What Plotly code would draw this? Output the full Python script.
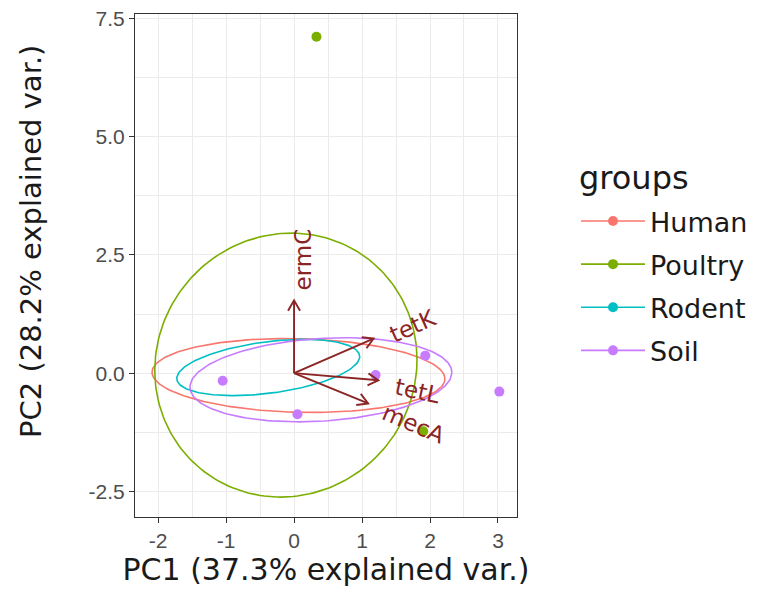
import numpy as np
import plotly.graph_objects as go

# ---------------- data ----------------
groups = ["Human", "Poultry", "Rodent", "Soil"]
group_colors = ["#F8766D", "#7CAE00", "#00BFC4", "#C77CFF"]

# observed (visible) sample scores
soil_pc1 = [-1.05, 0.05, 1.20, 1.93, 3.02]
soil_pc2 = [-0.16, -0.87, -0.04, 0.37, -0.39]
poultry_pc1 = [0.33, 1.90]
poultry_pc2 = [7.11, -1.23]

# ellipse parameters per group: centre and covariance-like spread
ell_cx = [0.065, -0.12, -0.38, 0.395]
ell_cy = [-0.05, 0.17, 0.12, -0.14]
ell_sxx = [4.64, 3.72, 1.81, 3.71]
ell_syy = [0.61, 7.78, 0.354, 0.79]
ell_sxy = [-0.15, 0.22, 0.31, 0.30]

# variable loadings (arrows)
var_names = ["ermC", "tetK", "tetL", "mecA"]
var_pc1 = [0.0, 1.17, 1.24, 1.09]
var_pc2 = [1.54, 0.73, -0.15, -0.64]
lab_pc1 = [0.13, 1.75, 1.82, 1.76]
lab_pc2 = [2.40, 0.99, -0.38, -1.08]
lab_angle = [-90, -24, 12, 23]

x_title = "PC1 (37.3% explained var.)"
y_title = "PC2 (28.2% explained var.)"
legend_title = "groups"
x_ticks = [-2, -1, 0, 1, 2, 3]
y_ticks = [-2.5, 0.0, 2.5, 5.0, 7.5]
y_ticklabels = ["-2.5", "0.0", "2.5", "5.0", "7.5"]

# ---------------- layout constants ----------------
W, H = 769, 594
ML, MR, MT, MB = 135, 252, 14, 77
PW, PH = W - ML - MR, H - MT - MB
XR = [-2.34, 3.28]
YR = [-3.04, 7.59]
pxx = PW / (XR[1] - XR[0])
pxy = PH / (YR[1] - YR[0])

arrow_col = "#8B2525"
font_tick = "Liberation Sans, Arial, sans-serif"
font_big = "DejaVu Sans, sans-serif"

fig = go.Figure()

# ellipses
t = np.linspace(0, 2 * np.pi, 200)
for i, g in enumerate(groups):
    a = np.sqrt(ell_sxx[i])
    c = ell_sxy[i] / a
    b = np.sqrt(ell_syy[i] - c ** 2)
    ex = ell_cx[i] + a * np.cos(t)
    ey = ell_cy[i] + c * np.cos(t) + b * np.sin(t)
    fig.add_trace(go.Scatter(x=ex, y=ey, mode="lines",
                             line=dict(color=group_colors[i], width=1.6),
                             showlegend=False, hoverinfo="skip"))

# points
fig.add_trace(go.Scatter(x=soil_pc1, y=soil_pc2, mode="markers",
                         marker=dict(color=group_colors[3], size=10),
                         showlegend=False))
fig.add_trace(go.Scatter(x=poultry_pc1, y=poultry_pc2, mode="markers",
                         marker=dict(color=group_colors[1], size=10),
                         showlegend=False))

# arrows (shaft + open head computed in pixel space)
for i in range(len(var_names)):
    x1, y1 = var_pc1[i], var_pc2[i]
    fig.add_trace(go.Scatter(x=[0, x1], y=[0, y1], mode="lines",
                             line=dict(color=arrow_col, width=1.9),
                             showlegend=False, hoverinfo="skip"))
    ang = np.arctan2(y1 * pxy, x1 * pxx)
    hx, hy = [], []
    for s in (1, -1):
        aa = ang + np.pi + s * np.radians(30)
        hx.append(x1 + 12 * np.cos(aa) / pxx)
        hy.append(y1 + 12 * np.sin(aa) / pxy)
    fig.add_trace(go.Scatter(x=[hx[0], x1, hx[1]], y=[hy[0], y1, hy[1]],
                             mode="lines", line=dict(color=arrow_col, width=1.9),
                             showlegend=False, hoverinfo="skip"))
    fig.add_annotation(x=lab_pc1[i], y=lab_pc2[i], text=var_names[i],
                       showarrow=False, textangle=lab_angle[i],
                       font=dict(family=font_big, size=23, color=arrow_col))

# y-axis title (placed as annotation for exact position)
fig.add_annotation(xref="paper", yref="paper", x=(31 - ML) / PW, y=(H - MB - 242) / PH,
                   text=y_title, textangle=-90, showarrow=False,
                   xanchor="center", yanchor="middle",
                   font=dict(family=font_big, size=29, color="#1A1A1A"))

# legend title (as annotation, for exact spacing)
fig.add_annotation(xref="paper", yref="paper", x=(577 - ML) / PW, y=(H - MB - 178) / PH,
                   text=legend_title, showarrow=False,
                   xanchor="left", yanchor="middle",
                   font=dict(family=font_big, size=32, color="#1A1A1A"))

# legend entries
for i, g in enumerate(groups):
    fig.add_trace(go.Scatter(x=[None], y=[None], mode="lines+markers", name=g,
                             line=dict(color=group_colors[i], width=1.6),
                             marker=dict(color=group_colors[i], size=10),
                             legendgroup=g))

axis_common = dict(showline=True, mirror=True, linecolor="#333333", linewidth=1.2,
                   ticks="outside", ticklen=5, tickcolor="#333333", tickwidth=1,
                   showgrid=True, gridcolor="#EBEBEB", gridwidth=1.2, zeroline=False,
                   automargin=False,
                   tickfont=dict(family=font_tick, size=21, color="#4D4D4D"))

fig.update_layout(
    width=W, height=H,
    margin=dict(l=ML, r=MR, t=MT, b=MB, autoexpand=False),
    paper_bgcolor="white", plot_bgcolor="white",
    xaxis=dict(range=XR, tickvals=x_ticks, ticktext=[str(v) for v in x_ticks],
               minor=dict(dtick=0.5, tick0=0, showgrid=True, gridcolor="#EBEBEB", gridwidth=0.8),
               title=dict(text=x_title, standoff=0,
                          font=dict(family=font_big, size=30, color="#1A1A1A")),
               **axis_common),
    yaxis=dict(range=YR, tickvals=y_ticks, ticktext=y_ticklabels,
               minor=dict(dtick=1.25, tick0=0, showgrid=True, gridcolor="#EBEBEB", gridwidth=0.8),
               **axis_common),
    legend=dict(x=(576 - ML) / PW, y=(H - MB - 197) / PH,
                xanchor="left", yanchor="top", tracegroupgap=5, itemwidth=64,
                font=dict(family=font_big, size=27, color="#1A1A1A"),
                bgcolor="rgba(0,0,0,0)"),
    showlegend=True,
)

fig.write_html("out.html", config={"displayModeBar": False},
               post_script="document.body.style.margin='0';")
